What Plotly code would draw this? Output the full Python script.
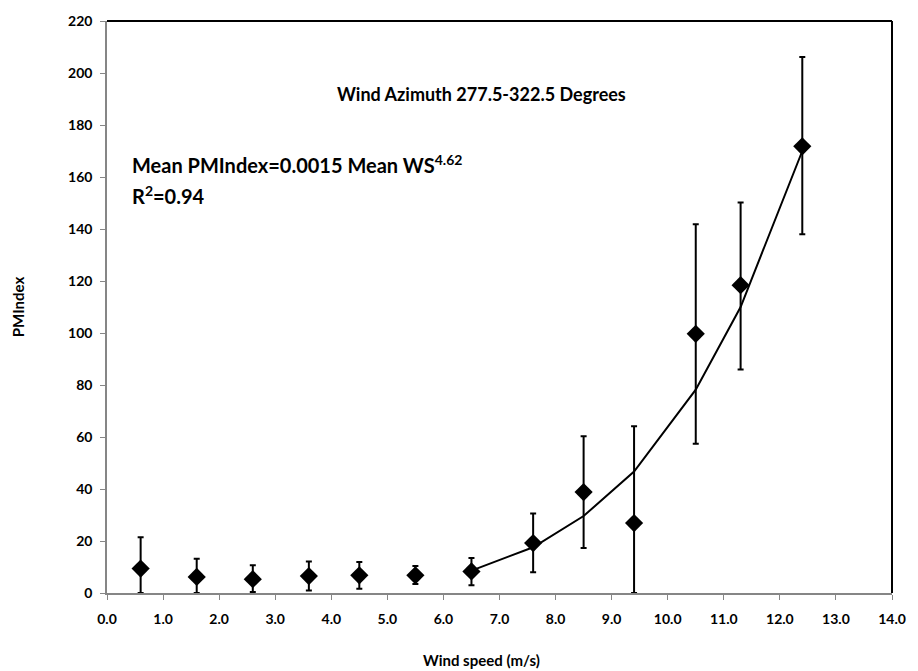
import plotly.graph_objects as go

wind_speed = [0.6, 1.6, 2.6, 3.6, 4.5, 5.5, 6.5, 7.6, 8.5, 9.4, 10.5, 11.3, 12.4]
pm_index = [9.4, 6.2, 5.3, 6.5, 6.8, 6.8, 8.3, 19.2, 38.8, 26.9, 99.7, 118.4, 171.8]
err_upper = [21.4, 13.2, 10.7, 12.1, 11.9, 10.4, 13.5, 30.6, 60.3, 64.1, 141.8, 150.2, 206.2]
err_lower = [0.0, 0.0, 0.4, 1.0, 1.6, 3.5, 3.0, 8.0, 17.3, 0.0, 57.4, 86.0, 138.0]

trend_x = [6.5, 7.6, 8.5, 9.4, 10.5, 11.3, 12.4]
trend_y = [8.6, 17.6, 29.6, 46.7, 78.2, 110.0, 170.0]

x_ticks = [0, 1, 2, 3, 4, 5, 6, 7, 8, 9, 10, 11, 12, 13, 14]
y_ticks = [0, 20, 40, 60, 80, 100, 120, 140, 160, 180, 200, 220]

FONT = "Lato"

fig = go.Figure()
fig.add_trace(go.Scatter(
    x=trend_x, y=trend_y, mode="lines",
    line=dict(color="black", width=2), showlegend=False, hoverinfo="skip",
))
fig.add_trace(go.Scatter(
    x=wind_speed, y=pm_index, mode="markers",
    marker=dict(symbol="diamond", size=14, color="black"),
    error_y=dict(
        type="data", symmetric=False,
        array=[u - v for u, v in zip(err_upper, pm_index)],
        arrayminus=[v - l for v, l in zip(pm_index, err_lower)],
        color="black", thickness=2, width=3,
    ),
    showlegend=False,
))

axis_common = dict(
    showgrid=False, zeroline=False, showline=True, linecolor="#868686", linewidth=1.5,
    ticks="outside", ticklen=5, tickcolor="#868686", tickwidth=1,
    tickfont=dict(family=FONT, size=14, color="black", weight="bold"),
)

fig.update_layout(
    width=918, height=671,
    margin=dict(l=107, r=15, t=13, b=78),
    paper_bgcolor="white", plot_bgcolor="white",
    xaxis=dict(range=[0, 14], tickvals=x_ticks, ticklabelstandoff=7,
               ticktext=[f"{v:.1f}" for v in x_ticks], **axis_common),
    yaxis=dict(range=[0, 220], tickvals=y_ticks, ticklabelstandoff=5, **axis_common),
    font=dict(family=FONT, color="black"),
)

# plot-area border on top and right
fig.add_shape(type="line", xref="paper", yref="paper", x0=0, x1=1, y0=1, y1=1,
              line=dict(color="black", width=2))
fig.add_shape(type="line", xref="paper", yref="paper", x0=1, x1=1, y0=0, y1=1,
              line=dict(color="black", width=2))

fig.add_annotation(text="<b>Wind speed (m/s)</b>", xref="paper", yref="paper",
                   x=(487 - 107) / 796, y=-(661 - 593) / 580, showarrow=False,
                   font=dict(family=FONT, size=15), xanchor="center", yanchor="middle")
fig.add_annotation(text="<b>PMIndex</b>", xref="paper", yref="paper",
                   x=-(107 - 17) / 796, y=(593 - 303) / 580, showarrow=False, textangle=-90,
                   font=dict(family=FONT, size=15), xanchor="center", yanchor="middle")
fig.add_annotation(text="<b>Wind Azimuth 277.5-322.5 Degrees</b>", xref="paper", yref="paper",
                   x=(487 - 107) / 796, y=(593 - 87) / 580, showarrow=False,
                   font=dict(family=FONT, size=18), xanchor="center", yanchor="middle")
fig.add_annotation(text="<b>Mean PMIndex=0.0015 Mean WS<sup>4.62</sup></b>", xref="paper", yref="paper",
                   x=(130 - 107) / 796, y=(593 - 158) / 580, showarrow=False,
                   font=dict(family=FONT, size=20), xanchor="left", yanchor="middle")
fig.add_annotation(text="<b>R<sup>2</sup>=0.94</b>", xref="paper", yref="paper",
                   x=(130 - 107) / 796, y=(593 - 189) / 580, showarrow=False,
                   font=dict(family=FONT, size=20), xanchor="left", yanchor="middle")

fig.write_html("out.html")
